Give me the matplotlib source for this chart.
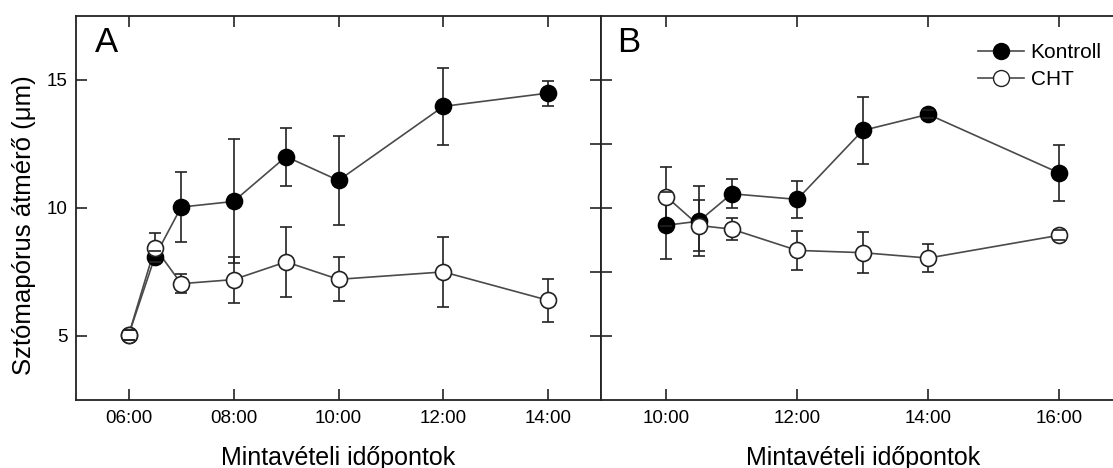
import matplotlib
matplotlib.use("Agg")
import matplotlib.pyplot as plt

plt.rcParams['font.family'] = ['Liberation Sans', 'DejaVu Sans']

# ---- data ----
a_times = [6, 6.5, 7, 8, 9, 10, 12, 14]
a_kontroll = [5.05, 8.1, 10.03, 10.25, 12.0, 11.07, 13.96, 14.48]
a_kontroll_err = [0.2, 0.2, 1.38, 2.42, 1.13, 1.73, 1.5, 0.49]
a_cht = [5.05, 8.45, 7.04, 7.2, 7.89, 7.21, 7.5, 6.39]
a_cht_err = [0.2, 0.55, 0.37, 0.9, 1.38, 0.86, 1.38, 0.85]

b_times = [10, 10.5, 11, 12, 13, 14, 16]
b_kontroll = [9.32, 9.48, 10.55, 10.33, 13.02, 13.65, 11.36]
b_kontroll_err = [1.3, 1.37, 0.57, 0.73, 1.29, 0.15, 1.1]
b_cht = [10.44, 9.31, 9.17, 8.34, 8.25, 8.04, 8.93]
b_cht_err = [1.15, 1.01, 0.42, 0.75, 0.8, 0.53, 0.2]

a_ticks = [6, 8, 10, 12, 14]
a_ticklabels = ['06:00', '08:00', '10:00', '12:00', '14:00']
b_ticks = [10, 12, 14, 16]
b_ticklabels = ['10:00', '12:00', '14:00', '16:00']
y_ticks = [5, 10, 15]
series_names = ['Kontroll', 'CHT']
xlabel = 'Mintavételi időpontok'
ylabel = 'Sztómapórus átmérő (μm)'

W, H = 1113, 468
fig = plt.figure(figsize=(W / 100, H / 100), dpi=100)

def px_rect(x0, y0, x1, y1):
    return [x0 / W, 1 - y1 / H, (x1 - x0) / W, (y1 - y0) / H]

axA = fig.add_axes(px_rect(76.3, 15.7, 600.7, 400))
axB = fig.add_axes(px_rect(600.7, 15.7, 1124.7, 400))

line_c = '#4a4a4a'
ms = 11.5

def errs(ax, t, v, e):
    _, caps, bars = ax.errorbar(t, v, yerr=e, fmt='none', ecolor='#222222',
                                elinewidth=1.2, capsize=4, capthick=1.2)
    for b in bars:
        b.set_zorder(2)
    for c in caps:
        c.set_zorder(6)

def draw(ax, t, k, ke, c, ce):
    ax.plot(t, k, '-', color=line_c, lw=1.2, zorder=3)
    ax.plot(t, c, '-', color=line_c, lw=1.2, zorder=3)
    ax.plot(t, k, 'o', color='black', mfc='black', mec='black', ms=ms,
            mew=1.2, zorder=4)
    ax.plot(t, c, 'o', color='black', mfc='white', mec='#222222', ms=ms,
            mew=1.2, zorder=5)
    errs(ax, t, k, ke)
    errs(ax, t, c, ce)

draw(axA, a_times, a_kontroll, a_kontroll_err, a_cht, a_cht_err)
draw(axB, b_times, b_kontroll, b_kontroll_err, b_cht, b_cht_err)

for ax in (axA, axB):
    ax.set_ylim(2.5, 17.5)
    for s in ax.spines.values():
        s.set_linewidth(1.3)
        s.set_color('#222222')

axA.set_xlim(5, 15)
axB.set_xlim(9, 17)

axA.set_xticks(a_ticks)
axA.set_xticklabels(a_ticklabels)
axA.set_yticks(y_ticks)
axA.tick_params(axis='both', direction='in', length=8, width=1.2,
                labelsize=13.5, top=True, right=False, color='#222222')
axA.tick_params(axis='y', pad=6.5)
axA.tick_params(axis='x', pad=7)

axB.set_xticks(b_ticks)
axB.set_xticklabels(b_ticklabels)
axB.set_yticks([5, 7.5, 10, 12.5, 15])
axB.tick_params(axis='x', direction='in', length=8, width=1.2,
                labelsize=13.5, top=True, pad=7, color='#222222')
axB.tick_params(axis='y', direction='inout', length=16, width=1.2,
                labelleft=False, color='#222222')

for ax in (axA, axB):
    ax.set_xlabel(xlabel, fontsize=18)
    ax.xaxis.label.set_va('baseline')
    ax.xaxis.set_label_coords(0.5, -(465 - 400) / 384.3)

fig.text(24 / W, 1 - 225 / H, ylabel, rotation=90, ha='center', va='center',
         fontsize=18.5)

axA.text(95 / W, 1 - 52 / H, 'A', transform=fig.transFigure, fontsize=25,
         ha='left', va='baseline')
axB.text(617 / W, 1 - 52 / H, 'B', transform=fig.transFigure, fontsize=25,
         ha='left', va='baseline')

hk = plt.Line2D([], [], color=line_c, lw=1.2, marker='o', mfc='black',
                mec='black', ms=ms)
hc = plt.Line2D([], [], color=line_c, lw=1.2, marker='o', mfc='white',
                mec='#222222', ms=ms)
axB.legend([hk, hc], series_names, loc='upper left',
           bbox_to_anchor=(978 / W, 1 - 43 / H), bbox_transform=fig.transFigure,
           frameon=False, fontsize=15, handlelength=2.2, handletextpad=0.32,
           borderpad=0, borderaxespad=0, labelspacing=0.4, numpoints=1)

fig.savefig('out.png', dpi=100)
